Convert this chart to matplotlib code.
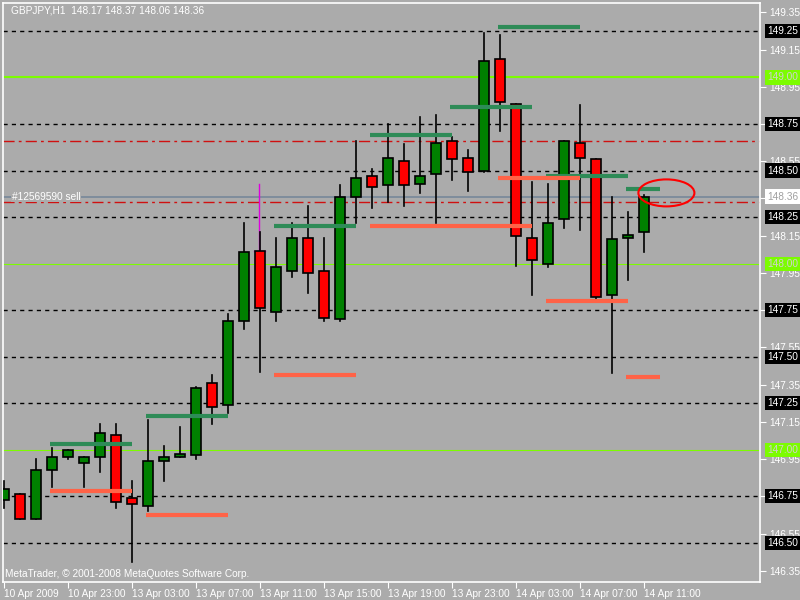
import matplotlib
matplotlib.use("Agg")
import matplotlib.pyplot as plt
from matplotlib.patches import Rectangle, Ellipse

plt.rcParams['font.family'] = ['Liberation Sans', 'DejaVu Sans']

opens  = [146.73,146.76,146.63,146.89,146.96,146.93,146.96,147.08,146.74,146.70,146.94,146.96,146.97,147.36,147.24,147.69,
          148.07,147.74,147.96,148.14,147.96,147.70,148.36,148.47,148.42,148.55,148.43,148.48,148.66,148.57,148.50,149.10,
          148.86,148.14,148.00,148.24,148.65,148.56,147.83,148.14,148.17]
highs  = [146.83,146.76,146.95,147.01,147.00,146.96,147.14,147.14,146.83,147.16,147.02,147.12,147.34,147.40,147.73,148.22,
          148.17,148.14,148.22,148.31,148.14,148.42,148.66,148.51,148.75,148.64,148.79,148.80,148.68,148.61,149.24,149.23,
          148.86,148.44,148.43,148.66,148.85,148.56,148.36,148.28,148.37]
lows   = [146.69,146.63,146.63,146.80,146.95,146.80,146.88,146.69,146.40,146.67,146.83,146.96,146.95,147.14,147.20,147.65,
          147.42,147.69,147.93,147.84,147.69,147.69,148.22,148.30,148.33,148.31,148.38,148.22,148.45,148.39,148.49,148.71,
          147.99,147.83,147.98,148.19,148.18,147.81,147.41,147.91,148.06]
closes = [146.79,146.63,146.89,146.96,147.00,146.96,147.09,146.72,146.71,146.94,146.96,146.98,147.33,147.23,147.69,148.06,
          147.76,147.98,148.14,147.95,147.71,148.36,148.46,148.41,148.57,148.42,148.47,148.65,148.56,148.49,149.09,148.87,
          148.15,148.02,148.22,148.66,148.57,147.82,148.13,148.15,148.36]

# (start bar, end bar, price)
high_segments = [(3,8,147.03),(9,14,147.18),(17,22,148.20),(23,28,148.69),(28,33,148.84),(31,36,149.27),(34,39,148.47),(39,41,148.40)]
low_segments  = [(3,8,146.78),(9,14,146.65),(17,22,147.40),(23,33,148.20),(31,36,148.46),(34,39,147.80),(39,41,147.39)]

grid_levels = [149.25,148.75,148.50,148.25,147.75,147.50,147.25,146.75,146.50]
round_levels = [149.00,148.00,147.00]
dashdot_levels = [148.66,148.33]
order_price = 148.36
order_label = "#12569590 sell"
title = "GBPJPY,H1  148.17 148.37 148.06 148.36"
axis_ticks = [149.35,149.15,148.95,148.75,148.55,148.35,148.15,147.95,147.75,147.55,147.35,147.15,146.95,146.75,146.55,146.35]
time_ticks = [0,4,8,12,16,20,24,28,32,36,40]
time_labels = ["10 Apr 2009","10 Apr 23:00","13 Apr 03:00","13 Apr 07:00","13 Apr 11:00","13 Apr 15:00",
               "13 Apr 19:00","13 Apr 23:00","14 Apr 03:00","14 Apr 07:00","14 Apr 11:00"]

BG = "#ababab"
FS = 6.8
fig = plt.figure(figsize=(8,6), dpi=100, facecolor=BG)
ax = fig.add_axes([3/800, 18/600, 757/800, 579/600], facecolor=BG)
ax.set_xlim(-0.06, 47.25)
ax.set_ylim(146.29, 149.40)
for s in ax.spines.values():
    s.set_color("white"); s.set_linewidth(1.2)

for lv in grid_levels:
    ax.axhline(lv, color="black", lw=1, ls=(0,(3,3)), zorder=1)
ax.axhline(round_levels[0], color="#7cfc00", lw=1.5, zorder=1)
for lv in round_levels[1:]:
    ax.axhline(lv, color="#7cfc00", lw=0.8, zorder=1)
for lv in dashdot_levels:
    ax.axhline(lv, color="#d01010", lw=1, ls=(0,(8,3,2,3)), zorder=1)
ax.axhline(order_price, color="#778899", lw=1.2, zorder=1)
ax.text(0.5, order_price, order_label, color="white", fontsize=FS+0.5, va="center", ha="left",
        bbox=dict(facecolor=BG, edgecolor="none", pad=0.5), zorder=2)

# trade marker
ax.plot([15.94,15.94],[148.43,148.07], color="#dd00dd", lw=1, zorder=2)
ax.plot([15.6,16.3],[148.07,148.07], color="#dd00dd", lw=1, zorder=2)

w = 0.6
for i,(o,h,l,c) in enumerate(zip(opens,highs,lows,closes)):
    ax.plot([i,i],[l,h], color="black", lw=1.2, zorder=3)
    col = "#008000" if c >= o else "#ff0000"
    ax.add_patch(Rectangle((i-w/2, min(o,c)), w, max(abs(c-o),0.012), facecolor=col, edgecolor="black", lw=1.2, zorder=4))

for a,b,p in high_segments:
    ax.plot([a-0.15,b],[p,p], color="#2e8b57", lw=3, zorder=5, solid_capstyle="butt")
for a,b,p in low_segments:
    ax.plot([a-0.15,b],[p,p], color="#ff6347", lw=3, zorder=5, solid_capstyle="butt")

ax.add_patch(Ellipse((41.4,148.38), 3.5, 0.145, facecolor="none", edgecolor="red", lw=1.5, zorder=6))

ax.text(0.01, 0.995, title, transform=ax.transAxes, color="white", fontsize=FS+0.5, va="top", ha="left")
ax.text(0.003, 0.005, "MetaTrader, © 2001-2008 MetaQuotes Software Corp.", transform=ax.transAxes,
        color="white", fontsize=FS+0.5, va="bottom", ha="left")

ax.yaxis.tick_right()
ax.set_yticks(axis_ticks)
ax.set_yticklabels([f"{t:.2f}" for t in axis_ticks])
ax.tick_params(axis="y", colors="white", labelsize=FS+0.5, length=4, pad=3)
ax.set_xticks(time_ticks)
ax.set_xticklabels(time_labels)
ax.tick_params(axis="x", colors="white", labelsize=FS+0.5, length=4, pad=1)
for lbl in ax.get_xticklabels():
    lbl.set_ha("left")

def box(p, fc, tc):
    ax.text(1.009, p, f"{p:.2f}", transform=ax.get_yaxis_transform(), color=tc, fontsize=FS+0.5, va="center",
            ha="left", bbox=dict(facecolor=fc, edgecolor="none", pad=1.5), zorder=10, clip_on=False)
for lv in grid_levels:
    box(lv, "black", "white")
for lv in round_levels:
    box(lv, "#7cfc00", "#d0d0d0")
box(order_price, "white", "#a0a0a0")

fig.savefig("out.png", dpi=100, facecolor=BG)
